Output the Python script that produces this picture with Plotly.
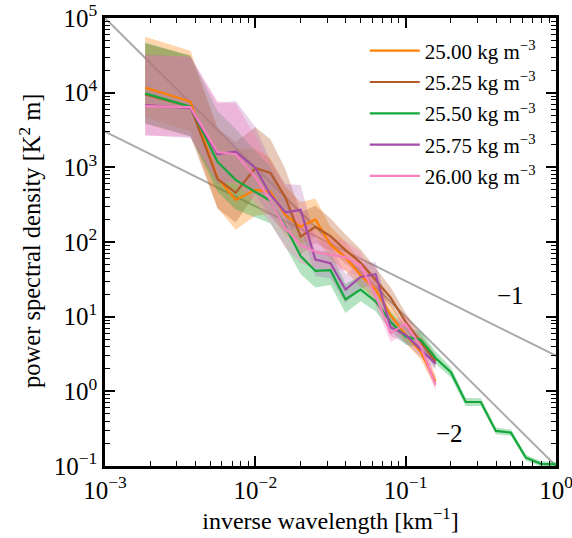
import math
import plotly.graph_objects as go

# ---------------- data ----------------
wavenumber = [0.00185, 0.0037, 0.0056, 0.0074, 0.01, 0.0126, 0.0158, 0.02, 0.0251,
              0.0316, 0.0398, 0.0501, 0.0631, 0.0794, 0.1, 0.126, 0.158,
              0.2, 0.251, 0.316, 0.398, 0.501, 0.631, 0.794, 1.0]

labels = ["25.00 kg m<sup>−3</sup>", "25.25 kg m<sup>−3</sup>", "25.50 kg m<sup>−3</sup>",
          "25.75 kg m<sup>−3</sup>", "26.00 kg m<sup>−3</sup>"]
colors = ["#ff7f00", "#b35a28", "#14a83c", "#a34ba8", "#f781bf"]
band_rgba = ["rgba(255,127,0,0.32)", "rgba(179,90,40,0.32)", "rgba(20,168,60,0.32)",
             "rgba(163,75,168,0.24)", "rgba(247,129,191,0.34)"]

psd_2500 = [11700, 7600, 720, 366, 500, 470, 230, 160, 200, 92, 62, 36, 23, 10.5, 5.7, 3.4, 1.35]
psd_2525 = [9500, 6500, 700, 457, 980, 840, 400, 118, 160, 120, 78, 53, 31, 18, 8.5, 4.6, 2.5]
psd_2550 = [9800, 6500, 1190, 680, 470, 355, 162, 65, 41, 42, 17, 23, 16, 8.5, 5.4, 4.9, 2.8,
            1.8, 0.72, 0.72, 0.295, 0.28, 0.129, 0.107, 0.105]
psd_2575 = [6800, 6200, 1510, 1620, 980, 430, 250, 270, 58, 52, 23, 34, 37, 7.2, 5.7, 3.6, 2.35]
psd_2600 = [6600, 6400, 1600, 1500, 740, 360, 155, 91, 74, 67, 63, 49, 19, 6.0, 8.0, 4.0, 1.23]
series = [psd_2500, psd_2525, psd_2550, psd_2575, psd_2600]

# confidence band factors (multiplicative), per wavenumber bin
band_hi = [4.79, 4.79, 4.79, 4.79, 3.55, 2.82, 2.40, 2.14, 1.91, 1.74, 1.62, 1.51, 1.45,
           1.38, 1.32, 1.29, 1.23, 1.16, 1.135, 1.12, 1.11, 1.10, 1.10, 1.085, 1.085]
band_lo = [0.40, 0.40, 0.40, 0.40, 0.45, 0.50, 0.54, 0.575, 0.60, 0.63, 0.66, 0.70, 0.74,
           0.76, 0.78, 0.79, 0.83, 0.86, 0.88, 0.89, 0.90, 0.91, 0.91, 0.92, 0.92]

# reference power laws: amplitude * k^slope
ref_slopes = [-1, -2]
ref_amps = [3.0, 0.1]
ref_labels = ["−1", "−2"]
ref_label_pos = [(0.5, 19.0), (0.197, 0.27)]
ref_x = [1e-3, 1.0]

x_ticks = [1e-3, 1e-2, 1e-1, 1e0]
x_ticktext = ["10<sup>−3</sup>", "10<sup>−2</sup>", "10<sup>−1</sup>", "10<sup>0</sup>"]
y_ticks = [1e-1, 1e0, 1e1, 1e2, 1e3, 1e4, 1e5]
y_ticktext = ["10<sup>−1</sup>", "10<sup>0</sup>", "10<sup>1</sup>", "10<sup>2</sup>",
              "10<sup>3</sup>", "10<sup>4</sup>", "10<sup>5</sup>"]
y_title = "power spectral density [K<sup>2</sup> m]"
x_title = "inverse wavelength [km<sup>−1</sup>]"

# ---------------- figure ----------------
fig = go.Figure()

for s, a in zip(ref_slopes, ref_amps):
    fig.add_trace(go.Scatter(x=ref_x, y=[a * xv ** s for xv in ref_x], mode="lines",
                             line=dict(color="#ababab", width=2), showlegend=False,
                             hoverinfo="skip"))

for vals, fc in zip(series, band_rgba):
    n = len(vals)
    xs = wavenumber[:n]
    hi = [v * f for v, f in zip(vals, band_hi[:n])]
    lo = [v * f for v, f in zip(vals, band_lo[:n])]
    fig.add_trace(go.Scatter(x=xs + xs[::-1], y=hi + lo[::-1], mode="lines",
                             fill="toself", fillcolor=fc,
                             line=dict(width=0, color="rgba(0,0,0,0)"),
                             showlegend=False, hoverinfo="skip"))

for i, (vals, col, lab) in enumerate(zip(series, colors, labels)):
    n = len(vals)
    fig.add_trace(go.Scatter(x=wavenumber[:n], y=vals, mode="lines", name=lab,
                             legendgroup="g%d" % i,
                             line=dict(color=col, width=2.2)))

# annotations on log axes are positioned in log10 units
for lab, (px, py) in zip(ref_labels, ref_label_pos):
    fig.add_annotation(x=math.log10(px), y=math.log10(py), xref="x", yref="y",
                       text=lab, showarrow=False, font=dict(size=25, color="black"))

# y-axis title as a rotated annotation (for precise vertical placement)
fig.add_annotation(x=-0.168, y=0.503, xref="paper", yref="paper", text=y_title,
                   textangle=-90, showarrow=False, xanchor="center", yanchor="middle",
                   font=dict(size=24.5, color="black"))

minor_vals = [m * 10.0 ** e for e in range(-4, 6) for m in range(2, 10)]

axis_common = dict(
    type="log", showgrid=False, zeroline=False, showline=True, linecolor="black",
    linewidth=2.5, mirror="allticks", ticks="inside", ticklen=10, tickwidth=1.6,
    tickcolor="black", tickfont=dict(size=25, color="black"), automargin=False,
    ticklabeloverflow="allow",
    minor=dict(tickvals=minor_vals, ticks="inside", ticklen=5, tickwidth=1.2,
               tickcolor="black", showgrid=False),
)

fig.update_xaxes(**axis_common, range=[-3, 0], tickvals=x_ticks, ticktext=x_ticktext,
                 title=dict(text=x_title, font=dict(size=24, color="black"), standoff=2))
fig.update_yaxes(**axis_common, range=[-1, 5], tickvals=y_ticks, ticktext=y_ticktext)

fig.update_layout(
    width=572, height=538,
    margin=dict(l=105, r=16, t=18, b=72, autoexpand=False),
    paper_bgcolor="white", plot_bgcolor="white",
    font=dict(family="Liberation Serif, Times New Roman, serif", color="black"),
    legend=dict(x=0.576, y=0.972, xanchor="left", yanchor="top",
                bgcolor="rgba(0,0,0,0)", borderwidth=0, itemwidth=50,
                font=dict(size=21, color="black"), tracegroupgap=1),
    showlegend=True,
)

# remove the default page margin so the figure sits at the window's top-left corner
fig.write_html("out.html", config={"displayModeBar": False},
               post_script="document.body.style.margin='0';document.body.style.overflow='hidden';")
